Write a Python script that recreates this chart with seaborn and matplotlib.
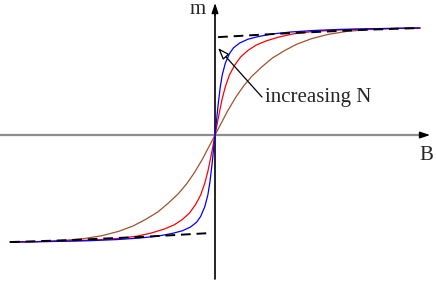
import matplotlib
matplotlib.use("Agg")
import matplotlib.pyplot as plt
import seaborn as sns
import pandas as pd

# ---- data (B, m) ----
blue_B = [-1.0, -0.8, -0.62, -0.48, -0.37, -0.28, -0.21, -0.16, -0.12, -0.09, -0.07, -0.05, -0.035, -0.025, -0.015, -0.008,
          0.0, 0.008, 0.015, 0.025, 0.035, 0.05, 0.07, 0.09, 0.12, 0.16, 0.21, 0.28, 0.37, 0.48, 0.62, 0.8, 1.0]
blue_m = [-1.0, -0.995, -0.988, -0.977, -0.963, -0.945, -0.92, -0.895, -0.86, -0.815, -0.76, -0.67, -0.56, -0.44, -0.28, -0.15,
          0.0, 0.15, 0.28, 0.44, 0.56, 0.67, 0.76, 0.815, 0.86, 0.895, 0.92, 0.945, 0.963, 0.977, 0.988, 0.995, 1.0]

red_B = [-1.0, -0.86, -0.72, -0.58, -0.47, -0.38, -0.31, -0.25, -0.2, -0.16, -0.125, -0.095, -0.07, -0.05, -0.035, -0.022, -0.01,
         0.0, 0.01, 0.022, 0.035, 0.05, 0.07, 0.095, 0.125, 0.16, 0.2, 0.25, 0.31, 0.38, 0.47, 0.58, 0.72, 0.86, 1.0]
red_m = [-1.0, -0.996, -0.99, -0.98, -0.966, -0.945, -0.915, -0.88, -0.84, -0.79, -0.73, -0.65, -0.56, -0.45, -0.34, -0.22, -0.1,
         0.0, 0.1, 0.22, 0.34, 0.45, 0.56, 0.65, 0.73, 0.79, 0.84, 0.88, 0.915, 0.945, 0.966, 0.98, 0.99, 0.996, 1.0]

brown_B = [-1.0, -0.86, -0.74, -0.64, -0.55, -0.47, -0.4, -0.34, -0.28, -0.23, -0.18, -0.14, -0.1, -0.06, -0.03,
           0.0, 0.03, 0.06, 0.1, 0.14, 0.18, 0.23, 0.28, 0.34, 0.4, 0.47, 0.55, 0.64, 0.74, 0.86, 1.0]
brown_m = [-1.0, -0.995, -0.985, -0.968, -0.94, -0.9, -0.85, -0.79, -0.72, -0.64, -0.55, -0.46, -0.35, -0.22, -0.11,
           0.0, 0.11, 0.22, 0.35, 0.46, 0.55, 0.64, 0.72, 0.79, 0.85, 0.9, 0.94, 0.968, 0.985, 0.995, 1.0]

dash_top_B = [0.015, 0.2, 0.37, 0.55, 0.7, 0.85, 1.0]
dash_top_m = [0.915, 0.935, 0.953, 0.968, 0.981, 0.991, 1.0]
dash_bot_B = [-1.0, -0.85, -0.7, -0.55, -0.37, -0.2, -0.015]
dash_bot_m = [-1.0, -0.991, -0.981, -0.968, -0.953, -0.935, -0.915]

sns.set_style("white")
plt.rcParams['font.family'] = ['Liberation Serif', 'DejaVu Serif']

fig = plt.figure(figsize=(4.36, 2.81), dpi=100)
ax = fig.add_axes([0, 0, 1, 1])

# axes with arrows
ax.plot([-1.049, 1.02], [0, 0], color="#8c8c8c", lw=1.6, zorder=1)
ax.annotate("", xy=(1.049, 0), xytext=(1.0, 0),
            arrowprops=dict(arrowstyle="-|>,head_length=0.6,head_width=0.2", color="black", lw=1.0,
                            shrinkA=0, shrinkB=0), zorder=2)
ax.plot([0, 0], [-1.346, 1.15], color="black", lw=1.2, zorder=2)
ax.annotate("", xy=(0, 1.234), xytext=(0, 1.12),
            arrowprops=dict(arrowstyle="-|>,head_length=0.6,head_width=0.2", color="black", lw=1.0,
                            shrinkA=0, shrinkB=0), zorder=2)

df_brown = pd.DataFrame({"B": brown_B, "m": brown_m})
df_red = pd.DataFrame({"B": red_B, "m": red_m})
df_blue = pd.DataFrame({"B": blue_B, "m": blue_m})
sns.lineplot(data=df_brown, x="B", y="m", color="#a0522d", lw=0.9, ax=ax, zorder=3)
sns.lineplot(data=df_red, x="B", y="m", color="#ff0000", lw=0.9, ax=ax, zorder=3)
sns.lineplot(data=df_blue, x="B", y="m", color="#0000ff", lw=0.9, ax=ax, zorder=3)

df_dt = pd.DataFrame({"B": dash_top_B, "m": dash_top_m})
df_db = pd.DataFrame({"B": dash_bot_B, "m": dash_bot_m})
sns.lineplot(data=df_dt, x="B", y="m", color="black", lw=1.4, ax=ax, zorder=4, linestyle=(0, (5, 3)))
sns.lineplot(data=df_db, x="B", y="m", color="black", lw=1.4, ax=ax, zorder=4, linestyle=(0, (5, 3)))

ax.set_xlim(-1.049, 1.078)
ax.set_ylim(-1.364, 1.262)
ax.axis("off")

ax.text(-0.085, 1.13, "m", fontsize=15, ha="center", va="baseline")
ax.text(1.03, -0.234, "B", fontsize=15, ha="center", va="baseline")
ax.text(0.244, 0.308, "increasing N", fontsize=15, ha="left", va="baseline")
ax.annotate("", xy=(0.015, 0.813), xytext=(0.229, 0.355),
            arrowprops=dict(arrowstyle="-|>,head_length=0.7,head_width=0.25", fc="white", ec="black", lw=0.9,
                            shrinkA=0, shrinkB=0), zorder=5)

fig.savefig("out.png", dpi=100)
